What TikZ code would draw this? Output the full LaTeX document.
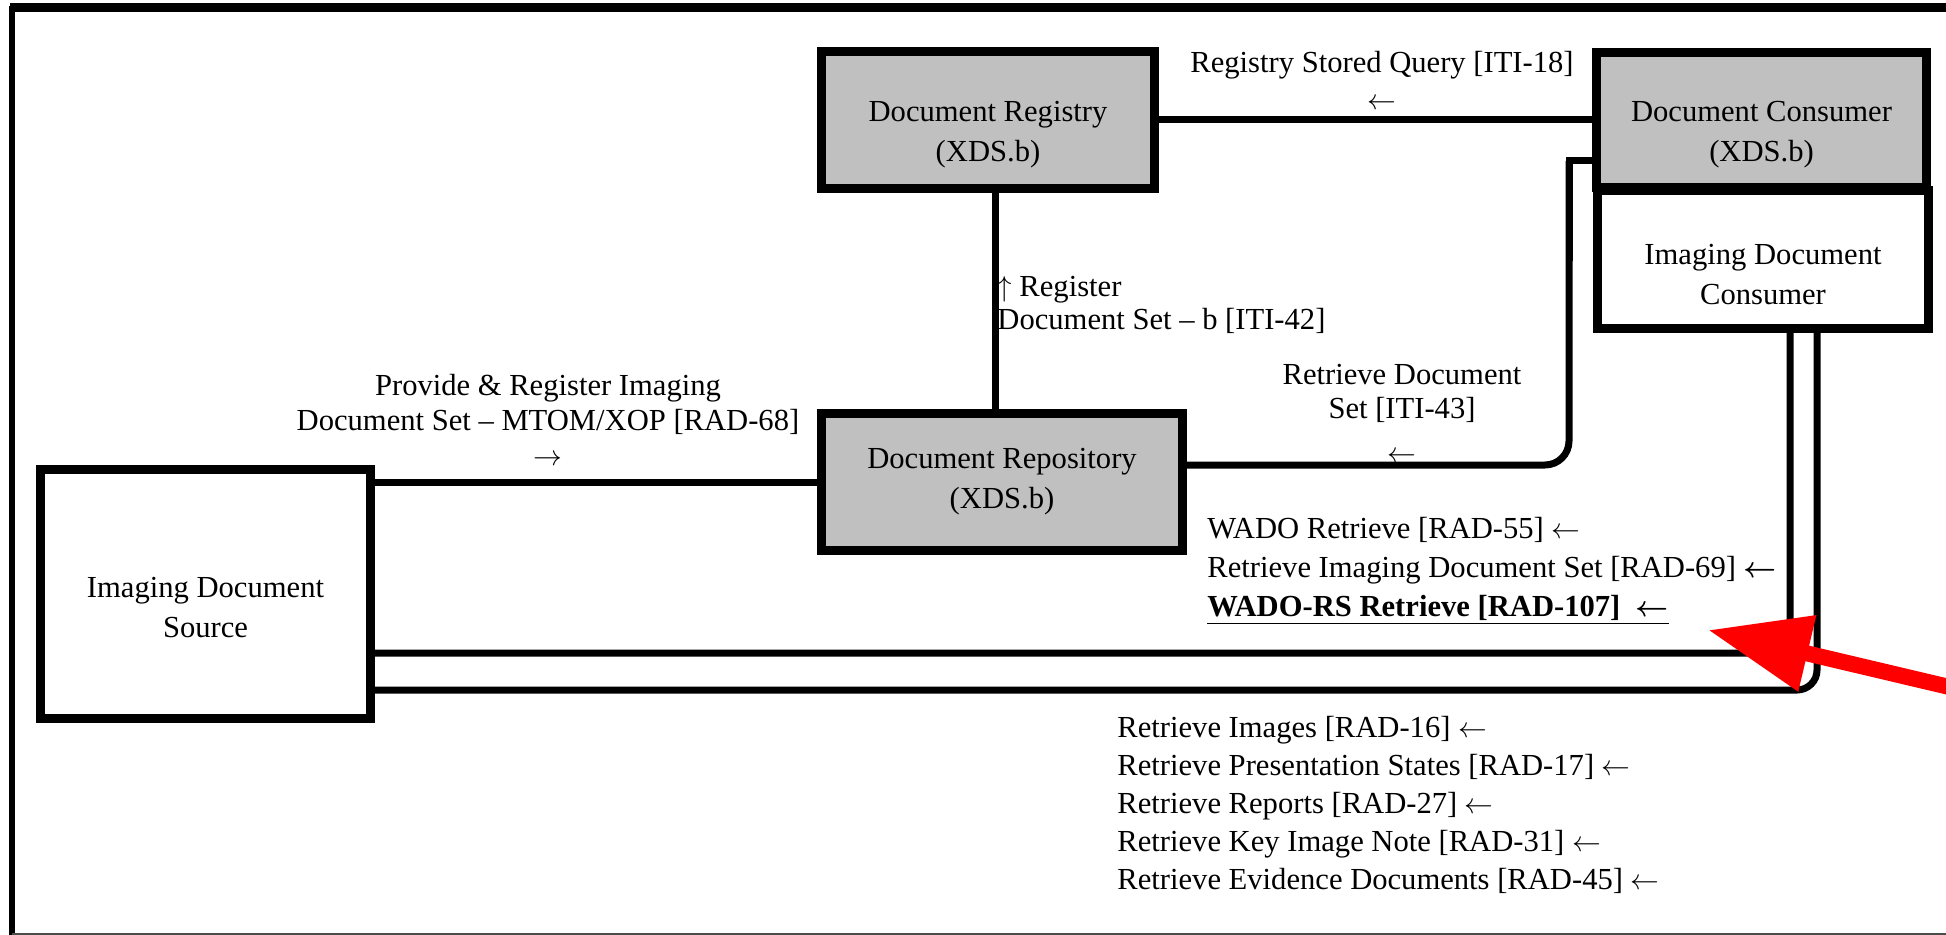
\documentclass[tikz,border=0pt]{standalone}
\usepackage{fontspec}
\setmainfont{Liberation Serif}
\usetikzlibrary{arrows.meta}
\definecolor{actorgray}{HTML}{C0C0C0}
\definecolor{pointred}{HTML}{FF0000}

\begin{document}
\begin{tikzpicture}[x=0.5pt,y=-0.5pt,
  every node/.style={font=\fontsize{15.3}{20}\selectfont, inner sep=0pt},
  actor/.style={draw, line width=4.5pt, rectangle},
  xds/.style={actor, fill=actorgray},
  actortext/.style={align=center},
  conn/.style={line width=3.5pt},
  txn/.style={align=center},
  pointer/.style={draw=pointred, line width=8pt, -{Triangle[length=51pt,width=37pt]}}]
\useasboundingbox (0,0) rectangle (1946,935);
% frame
\draw[line width=4.5pt] (10,8) -- (1946,8);
\draw[line width=3pt] (12,6) -- (12,935);
\draw[line width=1pt, black!70] (12,933.5) -- (1946,933.5);
% actors
\node[xds, minimum width=166.5pt, minimum height=68.5pt] (reg) at (988,120) {};
\node[xds, minimum width=165pt, minimum height=67.5pt] (con) at (1761.5,120) {};
\node[actor, minimum width=165.5pt, minimum height=69pt] (idc) at (1763,259.5) {};
\node[xds, minimum width=180.5pt, minimum height=68.5pt] (rep) at (1002,482) {};
\node[actor, minimum width=165pt, minimum height=124.5pt] (src) at (205.5,594) {};
\node[actortext] (regtxt) at ([yshift=-7.5pt]reg.center) {Document Registry\\(XDS.b)};
\node[actortext] (contxt) at ([yshift=-7.5pt]con.center) {Document Consumer\\(XDS.b)};
\node[actortext] (idctxt) at ([yshift=-7.5pt]idc.center) {Imaging Document\\Consumer};
\node[actortext] (reptxt) at (rep.center) {Document Repository\\(XDS.b)};
\node[actortext] (srctxt) at ([yshift=-7pt]src.center) {Imaging Document\\Source};
% transactions
\draw[conn] (reg.east) -- (con.west);
\coordinate (regfoot) at ([xshift=3.5pt]reg.south);
\draw[conn] (regfoot) -- (regfoot |- rep.north);
\draw[conn] (rep.west) -- (rep.west -| src.east);
\coordinate (repout) at ([yshift=8.5pt]rep.east);
\coordinate (bend) at (1569,161);
\draw[conn] (bend -| con.west) -- (bend) -- ++(0,100);
\draw[conn, rounded corners=12pt] (repout) -| (bend);
\coordinate (idcA) at ([xshift=13.5pt]idc.south);
\coordinate (idcB) at ([xshift=27pt]idc.south);
\coordinate (srcA) at ([yshift=-29.5pt]src.east);
\coordinate (srcB) at ([yshift=-48pt]src.east);
\draw[conn, rounded corners=4pt] (idcA) |- (srcA);
\draw[conn, rounded corners=10pt] (idcB) |- (srcB);
% labels
\node[txn, font=\fontsize{15.3}{18.5}\selectfont] (query) at (1382,80) {Registry Stored Query [ITI-18]\\$\leftarrow$};
\node[anchor=west, align=left, font=\fontsize{15.3}{16.5}\selectfont] (register) at (997,305) {$\uparrow$ Register\\Document Set -- b [ITI-42]};
\node[txn, font=\fontsize{15.3}{17.5}\selectfont] (provide) at (548,420) {Provide \& Register Imaging\\Document Set -- MTOM/XOP [RAD-68]\\$\rightarrow$};
\node[txn, font=\fontsize{15.3}{17}\selectfont] (retrieve) at (1402,413) {Retrieve Document\\Set [ITI-43]\\[5pt]$\leftarrow$};
\node[anchor=west, align=left, font=\fontsize{15.3}{19.5}\selectfont] (wado) at (1207,571) {WADO Retrieve [RAD-55] $\leftarrow$\\Retrieve Imaging Document Set [RAD-69] {\boldmath$\leftarrow$}\\\underline{\textbf{WADO-RS Retrieve [RAD-107]}\ \ {\boldmath$\leftarrow$}}};
\node[anchor=west, align=left, font=\fontsize{15.3}{19.1}\selectfont] (rad) at (1117,805) {Retrieve Images [RAD-16] $\leftarrow$\\Retrieve Presentation States [RAD-17] $\leftarrow$\\Retrieve Reports [RAD-27] $\leftarrow$\\Retrieve Key Image Note [RAD-31] $\leftarrow$\\Retrieve Evidence Documents [RAD-45] $\leftarrow$};
% pointer
\coordinate (pointtail) at (1962,690);
\coordinate (pointtip) at (1708,630);
\draw[pointer] (pointtail) -- (pointtip);
\end{tikzpicture}
\end{document}
